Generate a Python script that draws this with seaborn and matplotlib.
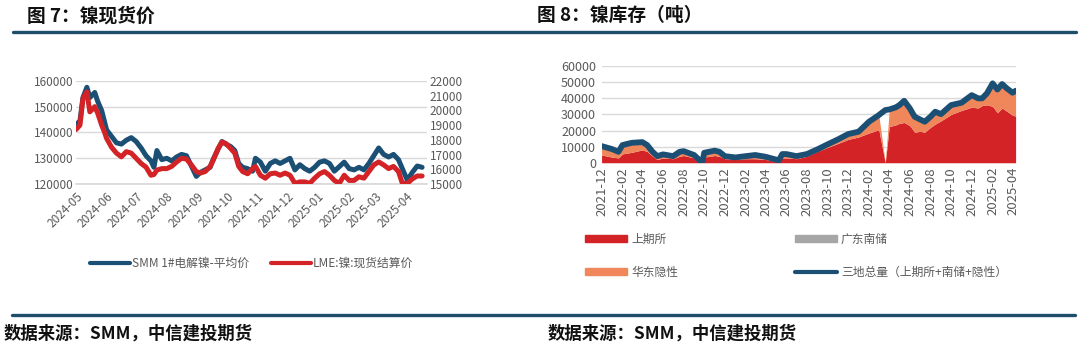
import pandas as pd
import numpy as np
import matplotlib.pyplot as plt
import matplotlib.dates as mdates
from matplotlib.lines import Line2D
from matplotlib.patches import Patch
import seaborn as sns

sns.set_theme(style="white")
plt.rcParams['font.family'] = ['Noto Sans CJK SC', 'DejaVu Sans']

# ---------- 图7 data: nickel spot price ----------
price_dates = ['2024-05-01', '2024-05-05', '2024-05-08', '2024-05-12', '2024-05-15', '2024-05-20',
               '2024-05-23', '2024-05-27', '2024-05-30', '2024-06-01', '2024-06-06', '2024-06-11',
               '2024-06-16', '2024-06-21', '2024-06-26', '2024-07-01', '2024-07-06', '2024-07-11',
               '2024-07-16', '2024-07-19', '2024-07-22', '2024-07-27', '2024-08-01', '2024-08-06',
               '2024-08-11', '2024-08-16', '2024-08-21', '2024-08-26', '2024-08-31', '2024-09-04',
               '2024-09-09', '2024-09-14', '2024-09-17', '2024-09-22', '2024-09-26', '2024-09-30',
               '2024-10-05', '2024-10-09', '2024-10-13', '2024-10-17', '2024-10-22', '2024-10-27',
               '2024-10-30', '2024-11-04', '2024-11-09', '2024-11-14', '2024-11-19', '2024-11-24',
               '2024-11-29', '2024-12-04', '2024-12-09', '2024-12-14', '2024-12-19', '2024-12-24',
               '2024-12-29', '2025-01-03', '2025-01-08', '2025-01-13', '2025-01-18', '2025-01-23',
               '2025-01-28', '2025-02-02', '2025-02-07', '2025-02-12', '2025-02-17', '2025-02-22',
               '2025-02-27', '2025-03-04', '2025-03-09', '2025-03-14', '2025-03-19', '2025-03-24',
               '2025-03-28', '2025-04-02', '2025-04-07', '2025-04-12', '2025-04-17']
smm_price = [143000, 144500, 153500, 157500, 153500, 155500, 152000, 148500, 144000, 141000,
             138500, 136000, 135500, 137000, 138000, 136500, 134000, 131000, 129000, 126500,
             133000, 129500, 130000, 129000, 130500, 131500, 131000, 127000, 123000, 124500,
             125500, 126500, 129500, 133500, 136500, 135500, 134500, 133000, 128000, 126500,
             126000, 125000, 130000, 128500, 125000, 128000, 129000, 128000, 129000, 130000,
             125500, 127500, 126000, 125000, 126500, 128500, 129000, 128000, 125000, np.nan,
             128500, 126000, 125500, 126500, 125500, 128000, 131000, 134000, 131500, 130500,
             131500, 129500, np.nan, 121500, 124500, 127000, 126500]
lme_price = [18700, 19000, 20800, 21250, 19900, 20250, 19800, 19000, 18500, 18100,
             17500, 17100, 16850, 17200, 17100, 16750, 16400, 16150, 15600, 15650,
             15950, 16050, 16050, 16200, 16500, 16750, 16700, 16300, 15850, 15750,
             15850, 16200, 16600, 17400, 17850, 17750, 17400, 17100, 16200, 15850,
             15700, 16050, 16200, 15600, 15400, 15700, 15750, 15600, 15750, 15600,
             15050, 15150, 15150, 15050, 15400, 15700, 15850, 15600, 15250, 15050,
             15600, 15250, 15250, 15500, 15400, 15850, 16300, 16500, 16300, 16050,
             16200, 15850, 15050, 15050, 15350, 15550, 15550]

# ---------- 图8 data: nickel inventory (tons) ----------
stock_dates = ['2021-12-01', '2022-01-01', '2022-01-20', '2022-02-01', '2022-03-01', '2022-04-01',
               '2022-04-15', '2022-05-01', '2022-05-15', '2022-06-01', '2022-07-01', '2022-07-20',
               '2022-08-01', '2022-09-01', '2022-09-25', '2022-10-01', '2022-11-01', '2022-11-15',
               '2022-12-01', '2023-01-01', '2023-02-01', '2023-03-01', '2023-04-01', '2023-05-10',
               '2023-05-20', '2023-06-01', '2023-07-01', '2023-08-01', '2023-09-01', '2023-10-01',
               '2023-11-01', '2023-12-01', '2024-01-01', '2024-02-01', '2024-03-01', '2024-03-20',
               '2024-04-01', '2024-04-20', '2024-05-01', '2024-05-15', '2024-06-01', '2024-06-15',
               '2024-07-01', '2024-07-15', '2024-08-01', '2024-08-15', '2024-09-01', '2024-10-01',
               '2024-11-01', '2024-12-01', '2024-12-20', '2025-01-01', '2025-01-15', '2025-02-01',
               '2025-02-15', '2025-03-01', '2025-03-15', '2025-04-01', '2025-04-10']
shfe_stock = [4800, 3500, 3000, 5500, 6500, 8000, 7000, 4000, 2000, 3000, 2500, 4000,
              4500, 3000, 0, 3500, 4500, 4000, 2500, 2000, 2500, 2500, 2000, 500,
              3000, 3000, 2500, 4000, 7000, 9500, 12000, 14500, 16000, 18500, 20500, 0,
              22500, 23500, 24500, 25000, 23000, 19000, 19500, 19000, 22000, 24000, 26000, 30000,
              32500, 34500, 34000, 35500, 36000, 35000, 31000, 34000, 32000, 29500, 29000]
gd_stock = [0, 0, 0, 0, 0, 0, 0, 0, 0, 0, 0, 0,
            0, 0, 0, 0, 0, 0, 0, 0, 0, 0, 0, 0,
            0, 0, 0, 0, 0, 0, 0, 0, 0, 0, 0, 0,
            0, 0, 0, 0, 0, 0, 0, 0, 0, 0, 0, 0,
            0, 0, 0, 0, 0, 0, 0, 0, 0, 0, 0]
east_stock = [5500, 5000, 3800, 5500, 5900, 4800, 4000, 2800, 2100, 2200, 1600, 2800,
              2700, 1800, 0, 2700, 3000, 2800, 1600, 1300, 1600, 2300, 1700, 1000,
              2400, 2400, 1600, 1400, 1300, 1900, 2500, 3300, 3300, 7000, 9100, 0,
              10600, 10900, 11300, 13500, 10700, 9600, 7400, 6500, 6600, 7700, 4200, 5800,
              4800, 7500, 6000, 4500, 7100, 14300, 14500, 14900, 14200, 14000, 15700]
total_stock = [10350, 8500, 6800, 11000, 12400, 12800, 11000, 6800, 4100, 5200, 4100, 6800,
               7200, 4800, 0, 6200, 7500, 6800, 4100, 3300, 4100, 4800, 3700, 1500,
               5400, 5400, 4100, 5400, 8300, 11400, 14500, 17800, 19300, 25500, 29600, 32700,
               33100, 34400, 35800, 38500, 33700, 28600, 26900, 25500, 28600, 31700, 30200, 35800,
               37300, 42000, 40000, 40000, 43100, 49300, 45500, 48900, 46200, 43500, 44700]

BLUE = '#1c4f74'
RED = '#d42327'
ORANGE = '#f0875a'
GRAY = '#a6a6a6'
TXT = '#595959'

price = pd.DataFrame({'date': pd.to_datetime(price_dates), 'smm': smm_price, 'lme': lme_price})
stock = pd.DataFrame({'date': pd.to_datetime(stock_dates), 'shfe': shfe_stock, 'gd': gd_stock,
                      'east': east_stock, 'total': total_stock})

fig = plt.figure(figsize=(10.8, 3.5), dpi=100)

# header / footer decoration
fig.text(0.025, 0.955, '图 7：镍现货价', fontsize=13.5, fontweight='bold', va='center', color='#111111')
fig.text(0.497, 0.955, '图 8：镍库存（吨）', fontsize=13.5, fontweight='bold', va='center', color='#111111')
fig.add_artist(Line2D([0.012, 0.996], [0.909, 0.909], color='#1f4e6b', lw=2.4))
fig.add_artist(Line2D([0.011, 0.995], [0.1, 0.1], color='#1f4e6b', lw=2.4))
fig.text(0.003, 0.048, '数据来源：SMM，中信建投期货', fontsize=12.5, fontweight='bold', va='center',
         color='#111111')
fig.text(0.507, 0.048, '数据来源：SMM，中信建投期货', fontsize=12.5, fontweight='bold', va='center',
         color='#111111')

# ---------- left chart ----------
ax1 = fig.add_axes([0.0704, 0.474, 0.325, 0.295])
ax2 = ax1.twinx()
sns.lineplot(data=price, x='date', y='smm', ax=ax1, color=BLUE, lw=3.6, legend=False)
sns.lineplot(data=price, x='date', y='lme', ax=ax2, color=RED, lw=3.6, legend=False)
ax1.set_ylim(120000, 160000)
ax1.set_yticks(range(120000, 160001, 10000))
ax2.set_ylim(15000, 22000)
ax2.set_yticks(range(15000, 22001, 1000))
ax1.set_xlim(pd.Timestamp('2024-05-01'), pd.Timestamp('2025-04-22'))
ax1.xaxis.set_major_locator(mdates.MonthLocator())
ax1.xaxis.set_major_formatter(mdates.DateFormatter('%Y-%m'))
ax1.grid(axis='y', color='#d9d9d9', lw=1)
ax1.set_axisbelow(True)
for a in (ax1, ax2):
    a.set_xlabel('')
    a.set_ylabel('')
    for s in a.spines.values():
        s.set_visible(False)
    a.tick_params(axis='y', labelsize=8.5, colors=TXT, length=0, pad=2)
ax1.spines['bottom'].set_visible(True)
ax1.spines['bottom'].set_color('#d9d9d9')
ax1.tick_params(axis='x', labelsize=8.5, colors=TXT, length=3, color='#bfbfbf', pad=1)
plt.setp(ax1.get_xticklabels(), rotation=45, ha='right', rotation_mode='anchor')
ax2.set_zorder(ax1.get_zorder() + 1)

h1 = [Line2D([], [], color=BLUE, lw=3), Line2D([], [], color=RED, lw=3)]
fig.legend(h1, ['SMM 1#电解镍-平均价', 'LME:镍:现货结算价'], loc='center', bbox_to_anchor=(0.233, 0.248),
           ncol=2, frameon=False, fontsize=8.5, handlelength=3.4, handletextpad=0.2, columnspacing=1.8,
           labelcolor=TXT)

# ---------- right chart ----------
ax3 = fig.add_axes([0.557, 0.535, 0.384, 0.276])
ax3.stackplot(stock['date'], stock['shfe'], stock['gd'], stock['east'],
              colors=[RED, GRAY, ORANGE], lw=0)
sns.lineplot(data=stock, x='date', y='total', ax=ax3, color=BLUE, lw=4.2, legend=False)
ax3.set_ylim(0, 60000)
ax3.set_yticks(range(0, 60001, 10000))
ax3.set_xlim(pd.Timestamp('2021-12-01'), pd.Timestamp('2025-04-12'))
ax3.xaxis.set_major_locator(mdates.MonthLocator(bymonth=[2, 4, 6, 8, 10, 12]))
ax3.xaxis.set_major_formatter(mdates.DateFormatter('%Y-%m'))
ax3.grid(axis='y', color='#d9d9d9', lw=1)
ax3.set_axisbelow(True)
ax3.set_xlabel('')
ax3.set_ylabel('')
for s in ax3.spines.values():
    s.set_visible(False)
ax3.tick_params(axis='y', labelsize=9, colors=TXT, length=0, pad=4)
ax3.tick_params(axis='x', labelsize=9.5, colors=TXT, length=0, pad=3)
plt.setp(ax3.get_xticklabels(), rotation=90)

h2 = [Patch(color=RED), Patch(color=ORANGE), Patch(color=GRAY), Line2D([], [], color=BLUE, lw=3)]
fig.legend(h2, ['上期所', '华东隐性', '广东南储', '三地总量（上期所+南储+隐性）'], loc='center',
           bbox_to_anchor=(0.737, 0.27), ncol=2, frameon=False, fontsize=8.5, handlelength=3.6,
           handleheight=0.6, handletextpad=0.3, columnspacing=9.9, labelspacing=1.7, labelcolor=TXT)

fig.savefig('out.png', dpi=100)
